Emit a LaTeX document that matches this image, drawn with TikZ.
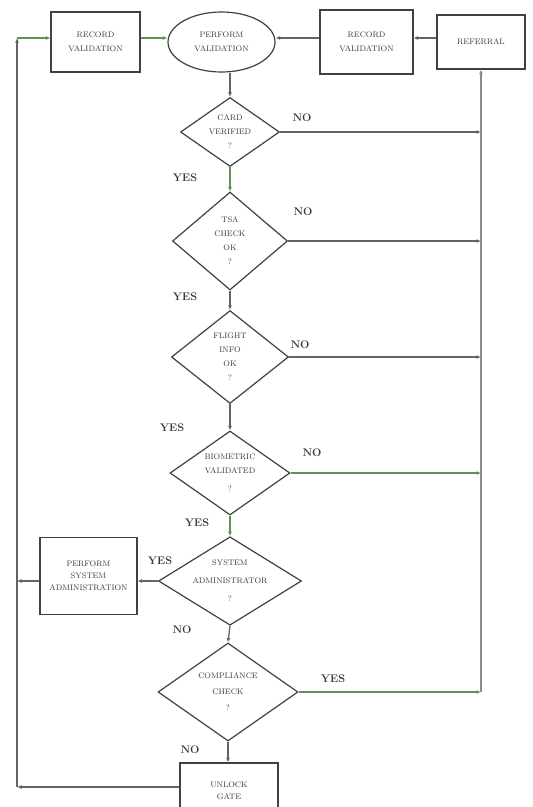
\documentclass[tikz,border=0pt]{standalone}
\usetikzlibrary{shapes.geometric,arrows.meta,calc}
\definecolor{edgegray}{RGB}{100,100,100}
\definecolor{edgegreen}{RGB}{92,148,80}
\definecolor{shapeline}{RGB}{65,65,65}
\definecolor{inkgray}{RGB}{55,55,55}
\begin{document}
\begin{tikzpicture}[x=1pt,y=-1pt,
  shapetext/.style={font=\fontsize{8}{14}\selectfont, text=inkgray, align=center, inner sep=0pt},
  stepbox/.style={shapetext, draw=shapeline, line width=1.2pt, rectangle},
  decision/.style={shapetext, draw=shapeline, line width=1.2pt, diamond, aspect=1.6},
  oval/.style={shapetext, draw=shapeline, line width=1.2pt, ellipse},
  flow/.style={draw=edgegray, line width=1.3pt, -{Latex[length=4.5pt,width=4pt]}},
  flowg/.style={flow, draw=edgegreen},
  ans/.style={font=\fontsize{11}{12}\selectfont\bfseries, text=inkgray, inner sep=0pt}
]
\useasboundingbox (0,0) rectangle (533,807);
\clip (0,0) rectangle (533,807);
\fill[white] (0,0) rectangle (533,807);

% top row
\node[stepbox, minimum width=89pt, minimum height=60pt] (rvl) at (95.5,42) {RECORD\\VALIDATION};
\node[oval, minimum width=107pt, minimum height=60pt] (pv) at (221.5,42) {PERFORM\\VALIDATION};
\node[stepbox, minimum width=93pt, minimum height=64pt] (rvr) at (366.5,42) {RECORD\\VALIDATION};
\node[stepbox, minimum width=88pt, minimum height=54pt] (ref) at (481,42) {REFERRAL};

% decisions
\node[decision, minimum width=99pt, minimum height=69pt] (card) at (230,132) {CARD\\VERIFIED\\?};
\node[decision, minimum width=115pt, minimum height=98pt] (tsa) at (230,241) {TSA\\CHECK\\OK\\?};
\node[decision, minimum width=117pt, minimum height=93pt] (flight) at (230,357) {FLIGHT\\INFO\\OK\\?};
\node[decision, minimum width=120pt, minimum height=84pt] (bio) at (230,473) {BIOMETRIC\\VALIDATED\\[4pt]?};
\node[decision, minimum width=143pt, minimum height=85pt] (sys) at (230,581) {SYSTEM\\[4pt]ADMINISTRATOR\\[4pt]?};
\node[decision, minimum width=140pt, minimum height=98pt] (comp) at (228,692) {COMPLIANCE\\[2pt]CHECK\\[2pt]?};

\node[stepbox, minimum width=97pt, minimum height=77pt, font=\fontsize{8}{12}\selectfont] (psa) at (88.5,576) {PERFORM\\SYSTEM\\ADMINISTRATION};
\node[stepbox, minimum width=98pt, minimum height=56pt, font=\fontsize{8}{12}\selectfont] (unlock) at (229,791) {UNLOCK\\GATE};

% branch labels
\node[ans] (l1) at (302,118) {NO};
\node[ans] (l2) at (185,178) {YES};
\node[ans] (l3) at (303,212) {NO};
\node[ans] (l4) at (185,297) {YES};
\node[ans] (l5) at (300,345) {NO};
\node[ans] (l6) at (172,428) {YES};
\node[ans] (l7) at (312,453) {NO};
\node[ans] (l8) at (197,523) {YES};
\node[ans] (l9) at (160,561) {YES};
\node[ans] (l10) at (182,630) {NO};
\node[ans] (l11) at (333,679) {YES};
\node[ans] (l12) at (190,750) {NO};

% routing points
\coordinate (lt) at (17,38);
\coordinate (lb) at (17,787);
\coordinate (rb) at (481,692);

% top row connectors
\draw[flowg] (lt) -- (rvl.west |- lt);
\draw[flowg] (rvl.east |- lt) -- (pv.west |- lt);
\draw[flow] (rvr.west |- lt) -- (pv.east |- lt);
\draw[flow] (ref.west |- lt) -- (rvr.east |- lt);

% main chain
\draw[flow] (pv.south -| card.north) -- (card.north);
\draw[flowg] (card.south) -- (tsa.north);
\draw[flow] (tsa.south) -- (flight.north);
\draw[flow] (flight.south) -- (bio.north);
\draw[flowg] (bio.south) -- (sys.north);
\draw[flow] (sys.south) -- (comp.north);
\draw[flow] (comp.south) -- (unlock.north -| comp.south);

% rejections to referral
\draw[flow] (card.east) -- (card.east -| rb);
\draw[flow] (tsa.east) -- (tsa.east -| rb);
\draw[flow] (flight.east) -- (flight.east -| rb);
\draw[flowg] (bio.east) -- (bio.east -| rb);
\draw[flowg] (comp.east) -- (rb);
\draw[flow, line width=1.9pt, draw=edgegray!75] (rb) -- (ref.south);

% administration branch
\draw[flow] (sys.west) -- (sys.west -| psa.east);
\draw[flow] (psa.west |- sys.west) -- (sys.west -| lt);

% loop back from the gate
\draw[flow] (unlock.west |- lb) -- (lb);
\draw[flow] (lb) -- (lt);
\end{tikzpicture}
\end{document}
